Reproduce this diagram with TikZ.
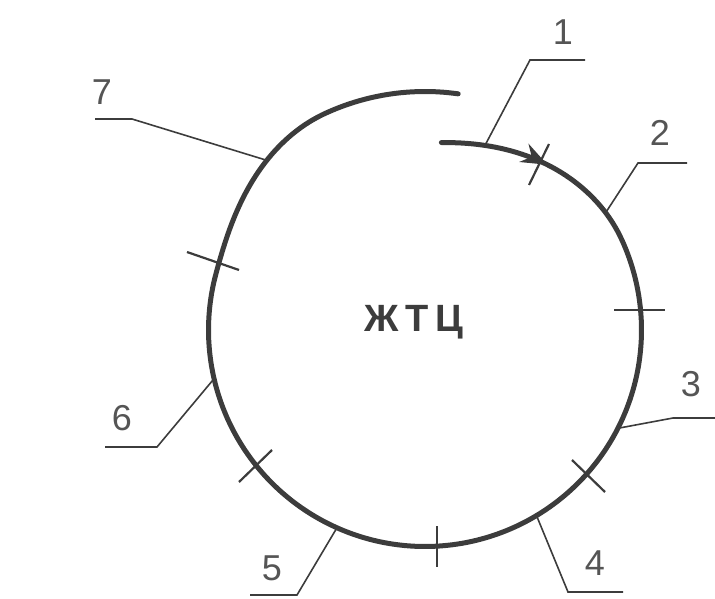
\documentclass[tikz,border=0pt]{standalone}
\usepackage{fontspec}
\setmainfont{Liberation Sans}
\usetikzlibrary{arrows.meta, decorations.markings, calc}
\definecolor{inkgray}{RGB}{60,60,60}
\definecolor{labelgray}{RGB}{85,85,85}

\begin{document}
\begin{tikzpicture}[x=1pt, y=-1pt,
    declare function={sstep(\t,\a,\w)=min(1,max(0,(\t-\a)/\w));
      smst(\u)=\u*\u*(3-2*\u);
      rr(\t)=186.5+30*smst(sstep(\t,-95,70))+22*smst(sstep(\t,195,50));},
    spiral/.style={line width=5pt, inkgray, line cap=round},
    tickmark/.style={line width=2.2pt, inkgray},
    leader/.style={line width=1.6pt, inkgray},
    num/.style={font=\fontsize{36}{40}\selectfont, labelgray}]
  \useasboundingbox (0,0) rectangle (715,599);
  \coordinate (c0) at (425,330);

  % Spiral line of the cycle
  \draw[spiral, postaction={decorate},
    decoration={markings, mark=at position 0.079 with {\arrow[inkgray]{Stealth[length=26pt, width=20pt]}}}]
    plot[domain=-85:278, samples=120, smooth] ({425+rr(\x)*cos(\x)}, {330+rr(\x)*sin(\x)});

  % Boundary ticks
  \draw[tickmark] (549,144) -- (529,185);
  \draw[tickmark] (614,310) -- (665,310);
  \draw[tickmark] (572,460) -- (605,492);
  \draw[tickmark] (437,526) -- (437,567);
  \draw[tickmark] (272,450) -- (239,482);
  \draw[tickmark] (187,252) -- (239,270);

  % Centre label
  \node[font=\fontsize{38}{42}\selectfont\bfseries, inkgray] (ctr) at (414,322) {Ж\kern7pt Т\kern7pt Ц};

  % Stage numbers
  \node[num] (n1) at (563,32) {1};
  \node[num] (n2) at (660,133) {2};
  \node[num] (n3) at (691,384) {3};
  \node[num] (n4) at (595,563) {4};
  \node[num] (n5) at (272,568) {5};
  \node[num] (n6) at (122,418) {6};
  \node[num] (n7) at (102,92) {7};

  % Leaders
  \coordinate (a1) at ($(c0)+(-72:{rr(-72)})$);     \coordinate (b1) at (530,60);
  \coordinate (a2) at ($(c0)+(-33:{rr(-33)})$);     \coordinate (b2) at (638,163);
  \coordinate (a3) at ($(c0)+(27:{rr(27)})$);       \coordinate (b3) at (673,418);
  \coordinate (a4) at ($(c0)+(59:{rr(59)})$);       \coordinate (b4) at (568,592);
  \coordinate (a5) at ($(c0)+(114:{rr(114)})$);     \coordinate (b5) at (297,595);
  \coordinate (a6) at ($(c0)+(167:{rr(167)})$);     \coordinate (b6) at (157,447);
  \coordinate (a7) at ($(c0)+(227:{rr(227)})$);     \coordinate (b7) at (132,119);
  \draw[leader] (a1) -- (b1) -- ++(55,0);
  \draw[leader] (a2) -- (b2) -- ++(49,0);
  \draw[leader] (a3) -- (b3) -- ++(42,0);
  \draw[leader] (a4) -- (b4) -- ++(55,0);
  \draw[leader] (a5) -- (b5) -- ++(-47,0);
  \draw[leader] (a6) -- (b6) -- ++(-52,0);
  \draw[leader] (a7) -- (b7) -- ++(-37,0);
\end{tikzpicture}
\end{document}
